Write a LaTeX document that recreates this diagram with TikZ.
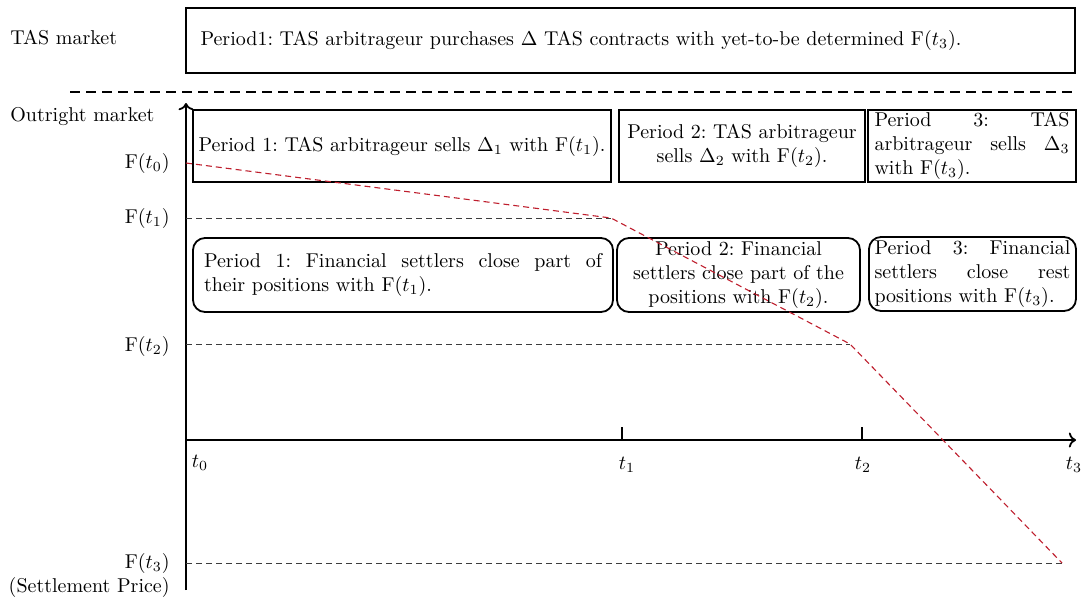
\documentclass[tikz,border=0pt]{standalone}
\usetikzlibrary{arrows.meta}

\definecolor{pricered}{RGB}{190,30,45}
\definecolor{levelgray}{RGB}{60,60,60}
\newcommand\keepwords{\hyphenpenalty=10000 \exhyphenpenalty=10000 }
\frenchspacing

\tikzset{
  sharpbox/.style={draw, line width=0.9pt, inner sep=0pt, minimum height=36pt,
    execute at begin node=\keepwords},
  roundbox/.style={sharpbox, rounded corners=6pt, minimum height=37pt},
  levelline/.style={levelgray, line width=0.5pt, dash pattern=on 3pt off 2pt},
  priceline/.style={pricered, line width=0.55pt, dash pattern=on 3pt off 2pt},
  axisline/.style={line width=0.9pt},
  marketlabel/.style={anchor=west, inner sep=0pt},
  pricelabel/.style={anchor=east, inner sep=0pt},
}

\begin{document}
\begin{tikzpicture}[x=0.5pt,y=-0.5pt]
\useasboundingbox (0,0) rectangle (1081,601);

\node[marketlabel] (tasmarket) at (10,38) {TAS market};
\node[sharpbox, minimum width=444.5pt, minimum height=32.5pt, text width=430pt, align=left] (tasbox) at (630.5,40.5)
  {Period1: TAS arbitrageur purchases $\Delta$ TAS contracts with yet-to-be determined F$(t_3)$.};

\coordinate (sepL) at (70,92);
\coordinate (sepR) at (1075,92);
\draw[axisline, dash pattern=on 5pt off 3pt] (sepL) -- (sepR);

\node[marketlabel] (outright) at (10,117) {Outright market};

\coordinate (ybot) at (186,590);
\coordinate (ytop) at (186,103);
\coordinate (origin) at (186,440);
\coordinate (xend) at (1076,440);
\coordinate (tick1) at (622,440);
\coordinate (tick2) at (862,440);
\draw[axisline,->] (ybot) -- (ytop);
\draw[axisline,->] (origin) -- (xend);
\draw[axisline] (tick1) -- ++(0,-13);
\draw[axisline] (tick2) -- ++(0,-13);

\node (t0) at (200,463) {$t_0$};
\node (t1) at (627,465) {$t_1$};
\node (t2) at (863,465) {$t_2$};
\node (t3) at (1074,465) {$t_3$};

\node[pricelabel] (f0) at (170,163) {F$(t_0)$};
\node[pricelabel] (f1) at (170,218) {F$(t_1)$};
\node[pricelabel] (f2) at (170,346) {F$(t_2)$};
\node[pricelabel] (f3) at (170,563) {F$(t_3)$};
\node[pricelabel] (settle) at (170,587) {(Settlement Price)};

\node[sharpbox, minimum width=209pt, text width=208pt, align=center] (sell1) at (402,146)
  {Period 1: TAS arbitrageur sells $\Delta_1$ with F$(t_1)$.};
\node[sharpbox, minimum width=123pt, text width=120pt, align=center] (sell2) at (742,146)
  {Period 2: TAS arbitrageur\\ sells $\Delta_2$ with F$(t_2)$.};
\node[sharpbox, minimum width=104pt, text width=97.5pt, align=justify] (sell3) at (972,146)
  {Period 3: TAS\linebreak arbitrageur sells $\Delta_3$\linebreak with F$(t_3)$.};

\node[roundbox, minimum width=210pt, text width=199pt, align=justify] (close1) at (403,275)
  {Period 1: Financial settlers close part of\linebreak their positions with F$(t_1)$.};
\node[roundbox, minimum width=121.5pt, text width=118pt, align=center] (close2) at (738.5,275)
  {Period 2: Financial\\ settlers close part of the\\ positions with F$(t_2)$.};
\node[roundbox, minimum width=103.5pt, text width=98pt, align=justify] (close3) at (972.5,274)
  {Period 3: Financial\linebreak settlers close rest\linebreak positions with F$(t_3)$.};

\coordinate (p0) at (186,163);
\coordinate (p1) at (611,218);
\coordinate (p2) at (850,344);
\coordinate (p3) at (1062,563);
\coordinate (lv1) at (186,218);
\coordinate (lv2) at (186,344);
\coordinate (lv3) at (186,563);
\draw[levelline] (lv1) -- (p1);
\draw[levelline] (lv2) -- (p2);
\draw[levelline] (lv3) -- (p3);
\draw[priceline] (p0) -- (p1) -- (p2) -- (p3);
\end{tikzpicture}
\end{document}
